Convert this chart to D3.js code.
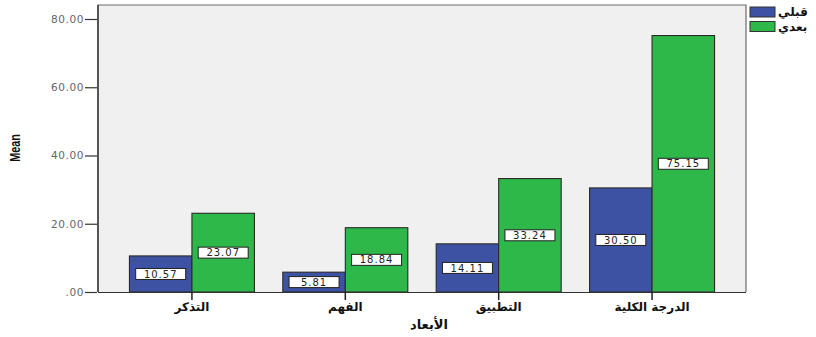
<!DOCTYPE html>
<html>
<head>
<meta charset="utf-8">
<script src="https://cdn.jsdelivr.net/npm/d3@7"></script>
<style>
  html, body { margin: 0; padding: 0; background: #ffffff; }
  svg { display: block; }
</style>
</head>
<body>
<svg id="chart" width="816" height="337"></svg>
<script>
// Dimensions of the study (x categories)
const categories = ["التذكر", "الفهم", "التطبيق", "الدرجة الكلية"];
// Series: pre-test and post-test means
const seriesNames = ["قبلي", "بعدي"];
const preValues = [10.57, 5.81, 14.11, 30.50];
const postValues = [23.07, 18.84, 33.24, 75.15];
const yTicks = [0, 20, 40, 60, 80];
const yTickLabels = [".00", "20.00", "40.00", "60.00", "80.00"];
const seriesColors = ["#3d52a3", "#2eb84a"];

const svg = d3.select("#chart");
const plot = { left: 98, right: 746, top: 5, bottom: 292 };

const x = d3.scaleBand()
  .domain(categories)
  .range([plot.left, plot.right])
  .paddingInner(0.185)
  .paddingOuter(0.205);

const xSub = d3.scaleBand()
  .domain(seriesNames)
  .range([0, x.bandwidth()]);

const y = d3.scaleLinear()
  .domain([0, 80])
  .range([plot.bottom, 19]);

// Plot background
svg.append("rect")
  .attr("x", plot.left).attr("y", plot.top)
  .attr("width", plot.right - plot.left)
  .attr("height", plot.bottom - plot.top)
  .attr("fill", "#f0f0f0")
  .attr("stroke", "none");

// Frame: left, top, right
svg.append("path")
  .attr("d", `M${plot.left},${plot.bottom}V${plot.top}H${plot.right}V${plot.bottom}`)
  .attr("fill", "none")
  .attr("stroke", "#6a6a6a")
  .attr("stroke-width", 1.2);
svg.append("line")
  .attr("x1", plot.left).attr("x2", plot.left)
  .attr("y1", plot.top).attr("y2", plot.bottom)
  .attr("stroke", "#555").attr("stroke-width", 2);

const data = categories.map((c, i) => ({ cat: c, vals: [preValues[i], postValues[i]] }));

// Bars
const groups = svg.append("g").selectAll("g")
  .data(data).join("g")
  .attr("transform", d => `translate(${x(d.cat)},0)`);

groups.selectAll("rect")
  .data(d => d.vals.map((v, j) => ({ s: seriesNames[j], v, j })))
  .join("rect")
  .attr("x", d => xSub(d.s))
  .attr("y", d => y(d.v))
  .attr("width", xSub.bandwidth())
  .attr("height", d => y(0) - y(d.v))
  .attr("fill", d => seriesColors[d.j])
  .attr("stroke", "#2a2a2a")
  .attr("stroke-width", 1.1);

// Value labels in the middle of each bar
const labels = groups.selectAll("g.lbl")
  .data(d => d.vals.map((v, j) => ({ s: seriesNames[j], v, j })))
  .join("g")
  .attr("class", "lbl")
  .attr("transform", d => `translate(${xSub(d.s) + xSub.bandwidth() / 2},${(y(d.v) + y(0)) / 2})`);

labels.append("rect")
  .attr("x", -25).attr("y", -5.5)
  .attr("width", 50).attr("height", 11)
  .attr("fill", "#ffffff")
  .attr("stroke", "#222")
  .attr("stroke-width", 1);

labels.append("text")
  .attr("text-anchor", "middle")
  .attr("dy", "0.36em")
  .attr("font-family", "DejaVu Sans, sans-serif")
  .attr("font-size", 10)
  .attr("letter-spacing", 1)
  .attr("fill", "#222")
  .text(d => d.v.toFixed(2));

// X axis
const xAxis = svg.append("g")
  .attr("transform", `translate(0,${plot.bottom})`)
  .call(d3.axisBottom(x).tickSize(8).tickSizeOuter(0));
xAxis.select(".domain").attr("stroke", "#333").attr("stroke-width", 1)
  .attr("d", `M${plot.left},0.5H${plot.right}`);
xAxis.selectAll(".tick line").attr("stroke", "#222").attr("stroke-width", 1.5);
xAxis.selectAll(".tick text")
  .attr("font-family", "DejaVu Sans, sans-serif")
  .attr("font-size", 12)
  .attr("font-weight", "bold")
  .attr("fill", "#111")
  .attr("dy", "0.7em");

// Y axis
const yAxis = svg.append("g")
  .attr("transform", `translate(${plot.left - 1},0)`)
  .call(d3.axisLeft(y).tickValues(yTicks).tickSize(12)
    .tickFormat((d, i) => yTickLabels[i]));
yAxis.select(".domain").remove();
yAxis.selectAll(".tick line").attr("stroke", "#333").attr("stroke-width", 1.2);
yAxis.selectAll(".tick text")
  .attr("font-family", "DejaVu Sans, sans-serif")
  .attr("font-size", 10.5)
  .attr("letter-spacing", 0.6)
  .attr("fill", "#666")
  .attr("x", -13);

// Axis titles
svg.append("text")
  .attr("transform", `translate(20,148) rotate(-90) scale(0.72,1)`)
  .attr("text-anchor", "middle")
  .attr("font-family", "Liberation Sans, sans-serif")
  .attr("font-size", 15)
  .attr("font-weight", "bold")
  .attr("fill", "#111")
  .text("Mean");

svg.append("text")
  .attr("x", 429).attr("y", 329)
  .attr("text-anchor", "middle")
  .attr("font-family", "DejaVu Sans, sans-serif")
  .attr("font-size", 13)
  .attr("font-weight", "bold")
  .attr("fill", "#111")
  .text("الأبعاد");

// Legend
const legend = svg.append("g").selectAll("g")
  .data(seriesNames).join("g")
  .attr("transform", (d, i) => `translate(750,${7 + i * 14.5})`);
legend.append("rect")
  .attr("width", 25).attr("height", 10)
  .attr("fill", (d, i) => seriesColors[i])
  .attr("stroke", "#333").attr("stroke-width", 1);
legend.append("text")
  .attr("x", 28).attr("y", 5).attr("dy", "0.36em")
  .attr("font-family", "DejaVu Sans, sans-serif")
  .attr("font-size", 12)
  .attr("font-weight", "bold")
  .attr("fill", "#111")
  .text(d => d);
</script>
</body>
</html>
